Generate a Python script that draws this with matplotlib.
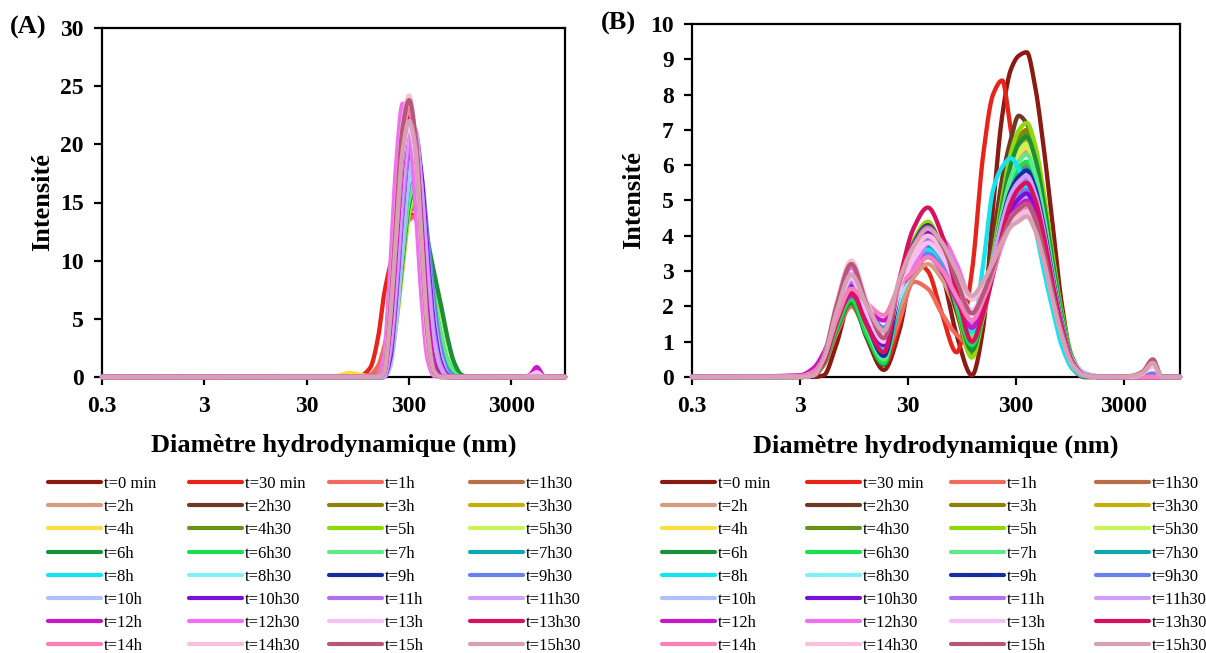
import numpy as np
import matplotlib
matplotlib.use("Agg")
import matplotlib.pyplot as plt
from matplotlib.ticker import NullLocator

plt.rcParams['font.family'] = ['Liberation Serif', 'DejaVu Serif']

# ---------------- data ----------------
labels = ['t=0 min', 't=30 min', 't=1h', 't=1h30', 't=2h', 't=2h30', 't=3h', 't=3h30',
          't=4h', 't=4h30', 't=5h', 't=5h30', 't=6h', 't=6h30', 't=7h', 't=7h30',
          't=8h', 't=8h30', 't=9h', 't=9h30', 't=10h', 't=10h30', 't=11h', 't=11h30',
          't=12h', 't=12h30', 't=13h', 't=13h30', 't=14h', 't=14h30', 't=15h', 't=15h30']

colors = ['#8B1A12', '#E8241A', '#F06A5E', '#BA6E48', '#D89A80', '#6E3A28', '#8C8208', '#C4B00C',
          '#F8E040', '#6A9018', '#90D808', '#C8F458', '#1A9038', '#18E050', '#5EEA88', '#10A8B0',
          '#14E4F0', '#80F0F4', '#182CA0', '#6880F0', '#B0C0F8', '#7810D8', '#B070F0', '#D0A0F8',
          '#C818C8', '#F070F0', '#F8C0F8', '#D81060', '#F880B8', '#F8C0DC', '#B85878', '#D8A0B4']

x_ticks = [0.3, 3, 30, 300, 3000]
x_ticklabels = ['0.3', '3', '30', '300', '3000']

# Panel A: diameters (nm) and intensities
diam_A = [0.3, 45, 60, 78, 100, 125, 150, 170, 195, 225, 260, 300, 345, 395, 455, 525,
          610, 710, 830, 970, 1150, 3800, 4500, 5300, 6200, 7200, 10000]
A_t0 = [0, 0, 0, 0, 0, 0, 0, 0.2, 2.3, 6.8, 12.0, 14.7, 15.0, 12.0, 6.8, 2.7, 0.6, 0, 0, 0, 0, 0, 0, 0, 0, 0, 0]
A_t30m = [0, 0, 0, 0, 0.1, 0.8, 3.5, 7.0, 9.5, 11.5, 13.0, 14.0, 13.8, 11.0, 6.0, 2.2, 0.5, 0, 0, 0, 0, 0, 0, 0, 0, 0, 0]
A_t1h = [0, 0, 0, 0, 0, 0.2, 1.0, 2.5, 5.0, 8.5, 11.8, 13.5, 13.8, 11.0, 6.2, 2.5, 0.5, 0, 0, 0, 0, 0, 0, 0, 0, 0, 0]
A_t1h30 = [0, 0, 0, 0, 0, 0, 0, 0.1, 2.0, 6.5, 11.6, 14.2, 14.5, 11.6, 6.5, 2.6, 0.6, 0, 0, 0, 0, 0, 0, 0, 0, 0, 0]
A_t2h = [0, 0, 0, 0, 0, 0, 0.3, 1.5, 4.0, 8.0, 12.4, 15.0, 15.3, 12.2, 6.9, 2.8, 0.6, 0, 0, 0, 0, 0, 0, 0, 0, 0, 0]
A_t2h30 = [0, 0, 0, 0, 0, 0, 0.2, 1.2, 3.6, 7.8, 12.5, 15.3, 15.6, 12.5, 7.0, 2.8, 0.6, 0, 0, 0, 0, 0, 0, 0, 0, 0, 0]
A_t3h = [0, 0, 0, 0, 0, 0, 0.3, 1.3, 3.5, 7.4, 12.0, 15.0, 15.8, 13.5, 8.5, 4.0, 1.2, 0.2, 0, 0, 0, 0, 0, 0, 0, 0, 0]
A_t3h30 = [0, 0, 0, 0, 0, 0, 0, 0.1, 1.8, 6.2, 11.8, 15.4, 16.2, 14.0, 9.0, 4.5, 1.5, 0.3, 0, 0, 0, 0, 0, 0, 0, 0, 0]
A_t4h = [0, 0, 0.1, 0.35, 0.2, 0.05, 0.1, 0.3, 2.5, 7.0, 12.5, 15.8, 16.5, 14.0, 8.8, 4.2, 1.3, 0.2, 0, 0, 0, 0, 0, 0, 0, 0, 0]
A_t4h30 = [0, 0, 0, 0, 0, 0, 0, 0.2, 2.0, 6.5, 12.0, 15.8, 16.8, 15.0, 10.5, 6.0, 2.5, 0.7, 0.1, 0, 0, 0, 0, 0, 0, 0, 0]
A_t5h = [0, 0, 0, 0, 0, 0, 0, 0, 1.2, 4.6, 9.6, 14.0, 15.5, 14.3, 11.0, 8.5, 5.9, 3.1, 1.1, 0.15, 0, 0, 0, 0, 0, 0, 0]
A_t5h30 = [0, 0, 0, 0, 0, 0, 0, 0, 1.3, 4.8, 9.9, 14.4, 16.0, 14.7, 11.4, 8.8, 6.1, 3.2, 1.1, 0.15, 0, 0, 0, 0, 0, 0, 0]
A_t6h = [0, 0, 0, 0, 0, 0, 0, 0, 1.3, 5.0, 10.2, 14.8, 16.5, 15.2, 11.8, 9.0, 6.3, 3.4, 1.2, 0.2, 0, 0, 0, 0, 0, 0, 0]
A_t6h30 = [0, 0, 0, 0, 0, 0, 0, 0, 1.6, 5.6, 11.0, 15.6, 17.0, 15.3, 11.0, 7.0, 3.8, 1.5, 0.4, 0, 0, 0, 0, 0, 0, 0, 0]
A_t7h = [0, 0, 0, 0, 0, 0, 0, 0, 1.6, 5.5, 10.8, 15.3, 16.8, 15.0, 10.8, 6.8, 3.6, 1.4, 0.3, 0, 0, 0, 0, 0, 0, 0, 0]
A_t7h30 = [0, 0, 0, 0, 0, 0, 0, 0, 2.0, 6.3, 12.0, 16.5, 17.5, 15.2, 10.0, 5.5, 2.4, 0.7, 0.1, 0, 0, 0, 0, 0, 0, 0, 0]
A_t8h = [0, 0, 0, 0, 0, 0, 0, 0, 2.2, 6.8, 12.6, 17.0, 18.0, 15.4, 10.0, 5.2, 2.1, 0.5, 0, 0, 0, 0, 0, 0, 0, 0, 0]
A_t8h30 = [0, 0, 0, 0, 0, 0, 0, 0, 2.0, 6.5, 12.3, 16.8, 17.8, 15.2, 9.8, 5.0, 2.0, 0.5, 0, 0, 0, 0, 0, 0, 0, 0, 0]
A_t9h = [0, 0, 0, 0, 0, 0, 0, 0, 1.8, 6.5, 12.8, 17.8, 19.0, 16.2, 10.5, 5.2, 2.0, 0.4, 0, 0, 0, 0, 0, 0, 0, 0, 0]
A_t9h30 = [0, 0, 0, 0, 0, 0, 0, 0, 1.2, 5.5, 12.0, 18.0, 20.0, 17.5, 12.0, 6.5, 2.6, 0.6, 0, 0, 0, 0, 0, 0, 0, 0, 0]
A_t10h = [0, 0, 0, 0, 0, 0, 0, 0, 0.8, 4.8, 11.5, 17.5, 19.3, 16.5, 10.8, 5.2, 1.8, 0.3, 0, 0, 0, 0, 0, 0, 0, 0, 0]
A_t10h30 = [0, 0, 0, 0, 0, 0, 0, 0, 1.5, 7.0, 14.5, 19.8, 21.0, 17.5, 10.5, 4.5, 1.3, 0.2, 0, 0, 0, 0, 0, 0, 0, 0, 0]
A_t11h = [0, 0, 0, 0, 0, 0, 0, 0, 2.0, 7.5, 14.8, 19.6, 20.5, 16.5, 9.5, 3.8, 1.0, 0.1, 0, 0, 0, 0, 0, 0, 0, 0, 0]
A_t11h30 = [0, 0, 0, 0, 0, 0, 0, 0, 2.5, 8.5, 16.0, 20.7, 21.3, 16.5, 8.8, 3.2, 0.8, 0, 0, 0, 0, 0, 0, 0, 0, 0, 0]
A_t12h = [0, 0, 0, 0, 0, 0, 0, 0.3, 4.0, 11.0, 18.5, 22.0, 20.5, 13.5, 5.5, 1.2, 0.1, 0, 0, 0, 0, 0, 0.15, 0.85, 0.1, 0, 0]
A_t12h30 = [0, 0, 0, 0, 0, 0, 0.2, 1.6, 9.0, 18.5, 23.5, 21.8, 15.0, 7.0, 1.5, 0.1, 0, 0, 0, 0, 0, 0, 0, 0, 0, 0, 0]
A_t13h = [0, 0, 0, 0, 0, 0, 0, 0.4, 5.0, 12.5, 19.0, 21.5, 19.0, 11.5, 4.0, 0.6, 0, 0, 0, 0, 0, 0, 0.1, 0.4, 0.05, 0, 0]
A_t13h30 = [0, 0, 0, 0, 0, 0, 0, 0.3, 4.5, 12.5, 19.5, 22.5, 20.0, 12.0, 4.2, 0.6, 0, 0, 0, 0, 0, 0, 0, 0, 0, 0, 0]
A_t14h = [0, 0, 0, 0, 0, 0, 0, 0.5, 5.8, 14.0, 20.8, 23.0, 19.8, 10.8, 3.0, 0.3, 0, 0, 0, 0, 0, 0, 0, 0, 0, 0, 0]
A_t14h30 = [0, 0, 0, 0, 0, 0, 0, 0.5, 6.0, 14.5, 21.8, 24.2, 20.5, 11.0, 3.0, 0.3, 0, 0, 0, 0, 0, 0, 0, 0, 0, 0, 0]
A_t15h = [0, 0, 0, 0, 0, 0, 0, 0.4, 5.5, 14.0, 21.5, 23.8, 20.8, 11.8, 3.6, 0.4, 0, 0, 0, 0, 0, 0, 0, 0, 0, 0, 0]
A_t15h30 = [0, 0, 0, 0, 0, 0, 0, 0.3, 4.8, 12.5, 19.5, 22.0, 19.8, 12.0, 4.0, 0.5, 0, 0, 0, 0, 0, 0, 0, 0, 0, 0, 0]

series_A = [A_t0, A_t30m, A_t1h, A_t1h30, A_t2h, A_t2h30, A_t3h, A_t3h30,
            A_t4h, A_t4h30, A_t5h, A_t5h30, A_t6h, A_t6h30, A_t7h, A_t7h30,
            A_t8h, A_t8h30, A_t9h, A_t9h30, A_t10h, A_t10h30, A_t11h, A_t11h30,
            A_t12h, A_t12h30, A_t13h, A_t13h30, A_t14h, A_t14h30, A_t15h, A_t15h30]

# Panel B: diameters (nm) and intensities
diam_B = [0.3, 3, 4, 5, 6.5, 9, 12.5, 18, 25, 34, 46, 62, 85, 118, 150, 185, 225, 270,
          320, 380, 450, 540, 650, 800, 1000, 1300, 1800, 3500, 4500, 5600, 6800, 10000]
B_t0 = [0, 0, 0, 0.05, 0.9, 2.2, 1.1, 0.2, 1.3, 3.3, 4.1, 3.0, 1.2, 0.05, 1.4, 4.8, 7.4, 8.7, 9.1, 9.2, 8.3, 6.6, 4.5, 2.1, 0.5, 0, 0, 0, 0, 0, 0, 0]
B_t30m = [0, 0, 0.05, 0.35, 1.3, 2.2, 1.2, 0.35, 1.5, 3.3, 3.0, 1.8, 0.7, 3.0, 6.3, 8.0, 8.4, 7.0, 5.8, 5.0, 4.4, 3.5, 2.3, 1.1, 0.25, 0, 0, 0, 0, 0, 0, 0]
B_t1h = [0, 0, 0.05, 0.35, 1.2, 2.0, 1.25, 0.6, 1.6, 2.7, 2.5, 1.8, 1.2, 0.9, 1.7, 3.0, 4.2, 5.0, 5.3, 5.4, 5.0, 4.0, 2.7, 1.4, 0.43, 0.05, 0, 0, 0, 0, 0, 0]
B_t1h30 = [0, 0, 0.05, 0.43, 1.49, 2.4, 1.41, 0.6, 2.2, 3.34, 3.8, 3.24, 2.06, 1.0, 1.9, 3.1, 4.4, 5.35, 5.82, 6.0, 5.52, 4.44, 3.0, 1.56, 0.48, 0.06, 0, 0, 0, 0, 0, 0]
B_t2h = [0, 0, 0.05, 0.45, 1.55, 2.5, 1.51, 0.7, 1.95, 2.82, 3.2, 2.78, 1.9, 1.1, 2.05, 3.33, 4.7, 5.71, 6.21, 6.4, 5.89, 4.74, 3.2, 1.66, 0.51, 0.06, 0, 0, 0, 0, 0, 0]
B_t2h30 = [0, 0, 0.05, 0.41, 1.43, 2.3, 1.28, 0.45, 2.18, 3.43, 3.9, 3.24, 1.85, 0.6, 2.1, 3.86, 5.63, 6.72, 7.4, 7.18, 6.51, 5.03, 3.26, 1.48, 0.37, 0, 0, 0, 0, 0, 0, 0]
B_t3h = [0, 0, 0.05, 0.43, 1.49, 2.4, 1.36, 0.5, 2.25, 3.52, 4.0, 3.38, 2.08, 0.9, 2.0, 3.46, 5.05, 6.21, 6.79, 7.0, 6.44, 5.18, 3.5, 1.82, 0.56, 0.07, 0, 0, 0, 0, 0, 0]
B_t3h30 = [0, 0, 0.05, 0.45, 1.55, 2.5, 1.46, 0.6, 2.35, 3.61, 4.1, 3.5, 2.24, 1.1, 2.11, 3.45, 4.91, 5.97, 6.5, 6.7, 6.16, 4.96, 3.35, 1.74, 0.54, 0.07, 0, 0, 0, 0, 0, 0]
B_t4h = [0, 0, 0.05, 0.41, 1.43, 2.3, 1.37, 0.6, 2.3, 3.52, 4.0, 3.4, 2.14, 1.0, 1.99, 3.31, 4.74, 5.79, 6.31, 6.5, 5.98, 4.81, 3.25, 1.69, 0.52, 0.07, 0, 0, 0, 0, 0, 0]
B_t4h30 = [0, 0, 0.05, 0.43, 1.49, 2.4, 1.36, 0.5, 2.3, 3.61, 4.1, 3.46, 2.12, 0.9, 1.98, 3.42, 4.98, 6.12, 6.69, 6.9, 6.35, 5.11, 3.45, 1.79, 0.55, 0.07, 0, 0, 0, 0, 0, 0]
B_t5h = [0, 0.02, 0.06, 0.41, 1.43, 2.3, 1.28, 0.45, 2.43, 3.87, 4.4, 3.63, 2.01, 0.55, 1.75, 3.34, 5.07, 6.34, 6.98, 7.2, 6.62, 5.33, 3.6, 1.87, 0.58, 0.07, 0, 0, 0, 0, 0, 0]
B_t5h30 = [0, 0, 0.05, 0.4, 1.36, 2.2, 1.32, 0.6, 2.3, 3.52, 4.0, 3.4, 2.14, 1.0, 2.01, 3.35, 4.81, 5.87, 6.4, 6.6, 6.07, 4.88, 3.3, 1.72, 0.53, 0.07, 0, 0, 0, 0, 0, 0]
B_t6h = [0, 0.02, 0.05, 0.38, 1.3, 2.1, 1.14, 0.35, 2.28, 3.7, 4.2, 3.51, 2.06, 0.75, 1.84, 3.29, 4.86, 6.01, 6.6, 6.8, 6.26, 5.03, 3.4, 1.77, 0.54, 0.07, 0, 0, 0, 0, 0, 0]
B_t6h30 = [0, 0, 0.05, 0.4, 1.36, 2.2, 1.21, 0.4, 2.15, 3.43, 3.9, 3.3, 2.04, 0.9, 1.84, 3.08, 4.44, 5.42, 5.92, 6.1, 5.61, 4.51, 3.05, 1.59, 0.49, 0.06, 0, 0, 0, 0, 0, 0]
B_t7h = [0, 0, 0.05, 0.45, 1.55, 2.5, 1.4, 0.5, 2.15, 3.34, 3.8, 3.28, 2.19, 1.2, 2.12, 3.34, 4.67, 5.64, 6.11, 6.3, 5.8, 4.66, 3.15, 1.64, 0.5, 0.06, 0, 0, 0, 0, 0, 0]
B_t7h30 = [0, 0, 0.05, 0.47, 1.61, 2.6, 1.5, 0.6, 2.15, 3.26, 3.7, 3.22, 2.21, 1.3, 2.13, 3.23, 4.43, 5.3, 5.72, 5.9, 5.43, 4.37, 2.95, 1.53, 0.47, 0.06, 0, 0, 0, 0, 0, 0]
B_t8h = [0, 0, 0.05, 0.47, 1.61, 2.6, 1.61, 0.8, 2.2, 3.3, 3.6, 3.14, 2.17, 1.3, 3.2, 5.3, 5.95, 6.2, 5.9, 5.3, 4.3, 3.1, 2.0, 0.9, 0.25, 0.02, 0, 0, 0, 0, 0, 0]
B_t8h30 = [0, 0, 0.05, 0.45, 1.55, 2.5, 1.62, 0.9, 2.2, 3.08, 3.5, 3.1, 2.26, 1.5, 2.24, 3.22, 4.29, 5.07, 5.43, 5.6, 5.15, 4.14, 2.8, 1.46, 0.45, 0.06, 0, 0, 0, 0, 0, 0]
B_t9h = [0, 0, 0.05, 0.49, 1.67, 2.7, 1.55, 0.6, 2.45, 3.78, 4.3, 3.72, 2.5, 1.4, 2.2, 3.27, 4.43, 5.27, 5.67, 5.85, 5.38, 4.33, 2.93, 1.52, 0.47, 0.06, 0, 0, 0, 0, 0, 0]
B_t9h30 = [0, 0.03, 0.1, 0.5, 1.74, 2.8, 2.03, 1.4, 2.45, 3.08, 3.5, 3.12, 2.32, 1.6, 2.27, 3.15, 4.12, 4.82, 5.14, 5.3, 4.88, 3.92, 2.65, 1.38, 0.45, 0.08, 0.02, 0, 0.02, 0.1, 0, 0]
B_t10h = [0, 0.03, 0.12, 0.52, 1.8, 2.9, 2.02, 1.3, 2.6, 3.43, 3.9, 3.44, 2.47, 1.6, 2.23, 3.07, 3.98, 4.65, 4.95, 5.1, 4.69, 3.77, 2.55, 1.33, 0.5, 0.12, 0.02, 0, 0, 0, 0, 0]
B_t10h30 = [0, 0, 0.05, 0.47, 1.61, 2.6, 1.67, 0.9, 2.5, 3.61, 4.1, 3.58, 2.49, 1.5, 2.17, 3.05, 4.02, 4.72, 5.04, 5.2, 4.78, 3.85, 2.6, 1.35, 0.42, 0.05, 0, 0, 0, 0, 0, 0]
B_t11h = [0, 0, 0.05, 0.49, 1.67, 2.7, 1.77, 1.0, 2.45, 3.43, 3.9, 3.42, 2.41, 1.5, 2.24, 3.22, 4.29, 5.07, 5.43, 5.6, 5.15, 4.14, 2.8, 1.46, 0.45, 0.06, 0, 0, 0, 0, 0, 0]
B_t11h30 = [0, 0, 0.05, 0.52, 1.8, 2.9, 1.91, 1.1, 2.55, 3.52, 4.0, 3.52, 2.51, 1.6, 2.34, 3.32, 4.39, 5.17, 5.53, 5.7, 5.24, 4.22, 2.85, 1.48, 0.46, 0.06, 0, 0, 0, 0, 0, 0]
B_t12h = [0, 0.05, 0.25, 0.7, 1.6, 2.3, 1.92, 1.6, 2.5, 3.0, 3.4, 3.0, 2.16, 1.4, 2.05, 2.91, 3.85, 4.53, 4.85, 5.0, 4.6, 3.7, 2.5, 1.3, 0.4, 0.05, 0, 0, 0, 0, 0, 0]
B_t12h30 = [0, 0, 0.05, 0.56, 1.92, 3.1, 2.06, 1.2, 2.6, 3.1, 3.8, 3.9, 3.2, 2.2, 2.6, 3.28, 4.0, 4.54, 4.75, 4.9, 4.51, 3.63, 2.45, 1.27, 0.39, 0.05, 0, 0, 0, 0, 0, 0]
B_t13h = [0, 0, 0.05, 0.5, 1.74, 2.8, 1.81, 1.0, 2.4, 3.34, 3.8, 3.42, 2.62, 1.9, 2.39, 3.03, 3.74, 4.25, 4.46, 4.6, 4.23, 3.4, 2.3, 1.2, 0.37, 0.05, 0, 0, 0, 0, 0, 0]
B_t13h30 = [0, 0, 0.05, 0.43, 1.49, 2.4, 1.47, 0.7, 2.75, 4.22, 4.8, 4.04, 2.44, 1.0, 1.81, 2.89, 4.06, 4.92, 5.34, 5.5, 5.06, 4.07, 2.75, 1.43, 0.44, 0.06, 0, 0, 0, 0, 0, 0]
B_t14h = [0, 0.03, 0.15, 0.55, 1.6, 2.5, 2.09, 1.75, 2.58, 3.0, 3.4, 3.04, 2.28, 1.6, 2.18, 2.94, 3.78, 4.38, 4.66, 4.8, 4.42, 3.55, 2.4, 1.25, 0.38, 0.05, 0, 0, 0, 0, 0, 0]
B_t14h30 = [0, 0, 0.05, 0.59, 2.05, 3.3, 2.15, 1.2, 2.6, 3.52, 4.0, 3.64, 2.88, 2.2, 2.65, 3.25, 3.9, 4.38, 4.56, 4.7, 4.32, 3.48, 2.35, 1.22, 0.38, 0.05, 0, 0, 0.1, 0.3, 0, 0]
B_t15h = [0, 0, 0.05, 0.58, 1.98, 3.2, 2.05, 1.1, 2.68, 3.74, 4.25, 3.76, 2.73, 1.8, 2.36, 3.1, 3.91, 4.5, 4.75, 4.9, 4.51, 3.63, 2.45, 1.27, 0.39, 0.05, 0, 0.03, 0.15, 0.5, 0, 0]
B_t15h30 = [0, 0, 0.05, 0.52, 1.8, 2.9, 2.02, 1.3, 2.75, 3.7, 4.2, 3.82, 3.02, 2.3, 2.71, 3.25, 3.83, 4.26, 4.41, 4.55, 4.19, 3.37, 2.28, 1.18, 0.36, 0.05, 0, 0.02, 0.12, 0.4, 0, 0]

series_B = [B_t0, B_t30m, B_t1h, B_t1h30, B_t2h, B_t2h30, B_t3h, B_t3h30,
            B_t4h, B_t4h30, B_t5h, B_t5h30, B_t6h, B_t6h30, B_t7h, B_t7h30,
            B_t8h, B_t8h30, B_t9h, B_t9h30, B_t10h, B_t10h30, B_t11h, B_t11h30,
            B_t12h, B_t12h30, B_t13h, B_t13h30, B_t14h, B_t14h30, B_t15h, B_t15h30]


# smoothed line (shape-preserving cubic through the points, like a "smoothed line" chart)
def smooth_line(xs, ys, n=1600):
    lx = np.log10(np.asarray(xs, float))
    y = np.asarray(ys, float)
    h = np.diff(lx)
    d = np.diff(y) / h
    m = np.zeros_like(y)
    for k in range(1, len(y) - 1):
        if d[k - 1] * d[k] > 0:
            w1 = 2 * h[k] + h[k - 1]
            w2 = h[k] + 2 * h[k - 1]
            m[k] = (w1 + w2) / (w1 / d[k - 1] + w2 / d[k])
    q = np.linspace(lx[0], lx[-1], n)
    i = np.clip(np.searchsorted(lx, q) - 1, 0, len(lx) - 2)
    t = (q - lx[i]) / h[i]
    h00 = 2 * t**3 - 3 * t**2 + 1
    h10 = t**3 - 2 * t**2 + t
    h01 = -2 * t**3 + 3 * t**2
    h11 = t**3 - t**2
    yq = h00 * y[i] + h10 * h[i] * m[i] + h01 * y[i + 1] + h11 * h[i] * m[i + 1]
    return 10**q, yq


W, H = 1206, 653
fig = plt.figure(figsize=(W / 100, H / 100), dpi=100)
axA = fig.add_axes([102 / W, 1 - 377 / H, (565 - 102) / W, (377 - 28) / H])
axB = fig.add_axes([692 / W, 1 - 377 / H, (1180 - 692) / W, (377 - 24) / H])


def style_axis(ax, ymax, ystep, ylab_x):
    ax.set_xscale('log')
    ax.set_xlim(0.3, 10000)
    ax.set_ylim(0, ymax)
    ax.set_xticks(x_ticks)
    ax.set_xticklabels(x_ticklabels)
    ax.xaxis.set_minor_locator(NullLocator())
    ax.set_yticks(np.arange(0, ymax + 0.001, ystep))
    ax.set_yticklabels([f'{v:g}' for v in np.arange(0, ymax + 0.001, ystep)])
    for s in ax.spines.values():
        s.set_linewidth(1.6)
    ax.tick_params(axis='both', direction='out', length=6, width=1.6, labelsize=17)
    ax.tick_params(axis='x', pad=8)
    ax.tick_params(axis='y', pad=7)
    for lab in ax.get_xticklabels() + ax.get_yticklabels():
        lab.set_fontweight('bold')
    ax.set_xlabel('Diamètre hydrodynamique (nm)', fontsize=19, fontweight='bold')
    ax.set_ylabel('Intensité', fontsize=19, fontweight='bold')
    ax.xaxis.set_label_coords(0.5, -0.163)
    ax.yaxis.set_label_coords(ylab_x, 0.5)


def draw(ax, diam, series):
    lines = []
    for vals, col, lab in zip(series, colors, labels):
        xs, ys = smooth_line(diam, vals)
        ln, = ax.plot(xs, ys, color=col, lw=3.1, label=lab, clip_on=False,
                      zorder=3, solid_capstyle='round')
        lines.append(ln)
    return lines


linesA = draw(axA, diam_A, series_A)
linesB = draw(axB, diam_B, series_B)
style_axis(axA, 30, 5, -0.104)
style_axis(axB, 10, 1, -0.096)

fig.text(10 / W, 1 - 27 / H, '(A)', fontsize=19, fontweight='bold', va='center', ha='left')
fig.text(601 / W, 1 - 23 / H, '(B)', fontsize=19, fontweight='bold', va='center', ha='left')


def column_legends(lines, xs_px, top_px):
    for c, xp in enumerate(xs_px):
        hs = [lines[r * 4 + c] for r in range(8)]
        ls = [labels[r * 4 + c] for r in range(8)]
        leg = fig.legend(hs, ls, loc='upper left', bbox_to_anchor=(xp / W, 1 - top_px / H),
                         bbox_transform=fig.transFigure, frameon=False, fontsize=12,
                         handlelength=3.2, handletextpad=0.15, labelspacing=0.43,
                         borderpad=0, borderaxespad=0)
        for ln in leg.get_lines():
            ln.set_linewidth(3.0)


column_legends(linesA, [48, 189, 329, 470], 476)
column_legends(linesB, [662, 807, 951, 1096], 476)

fig.savefig('out.png', dpi=100)
